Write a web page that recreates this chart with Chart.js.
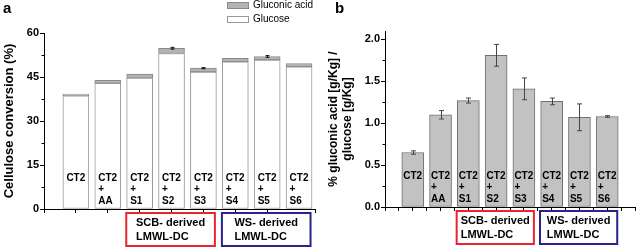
<!DOCTYPE html>
<html>
<head>
<meta charset="utf-8">
<script src="https://cdn.jsdelivr.net/npm/chart.js@4"></script>
<style>
  html, body { margin: 0; padding: 0; background: #fff; }
  .panel { position: absolute; top: 0; height: 248px; }
  #wrapA { left: 0; width: 318px; }
  #wrapB { left: 318px; width: 320px; }
</style>
</head>
<body>
<div class="panel" id="wrapA"><canvas id="chartA" width="318" height="248"></canvas></div>
<div class="panel" id="wrapB"><canvas id="chartB" width="320" height="248"></canvas></div>
<script>
/* global Chart */

// data
const categories = ['CT2', 'CT2 + AA', 'CT2 + S1', 'CT2 + S2', 'CT2 + S3', 'CT2 + S4', 'CT2 + S5', 'CT2 + S6'];
const glucoseVals = [38.6, 42.8, 44.6, 53.0, 46.7, 50.2, 50.8, 48.5];
const gluconicVals = [0.6, 1.1, 1.4, 1.8, 1.3, 1.2, 1.2, 1.1];
const gluconicErr = [0, 0, 0, 0.3, 0.2, 0, 0.3, 0];
const ratioVals = [0.65, 1.10, 1.27, 1.81, 1.41, 1.26, 1.07, 1.08];
const ratioErr = [0.02, 0.05, 0.03, 0.13, 0.13, 0.04, 0.16, 0.01];
const yTicksA = [0, 15, 30, 45, 60];
const yTicksB = [0, 0.5, 1.0, 1.5, 2.0];
const groupNames = [['SCB- derived', 'LMWL-DC'], ['WS- derived', 'LMWL-DC']];
const groupSpans = [[3, 5], [6, 8]];
const groupColors = ['#e8242c', '#28248c'];

const FONT = 'Liberation Sans, Arial, sans-serif';
Chart.defaults.font.family = FONT;
Chart.defaults.color = '#000';
Chart.defaults.animation = false;
Chart.defaults.responsive = false;

function pts(vals) {
  return vals.map(function(v, i) { return { x: i + 1, y: v }; });
}

// minor ticks, error bars, bar captions, group boxes
const extras = {
  id: 'extras',
  afterDraw: function(chart, args, o) {
    const ctx = chart.ctx;
    const x = chart.scales.x;
    const y = chart.scales.y;
    const area = chart.chartArea;
    ctx.save();

    // minor y ticks
    ctx.strokeStyle = '#000';
    ctx.lineWidth = 1;
    for (let v = y.min; v <= y.max + 1e-9; v += o.minor) {
      const py = Math.round(y.getPixelForValue(v)) + 0.5;
      ctx.beginPath();
      ctx.moveTo(area.left, py);
      ctx.lineTo(area.left - 2.5, py);
      ctx.stroke();
    }

    // error bars
    ctx.strokeStyle = o.errColor;
    for (let i = 0; i < o.tops.length; i++) {
      if (!o.err[i]) continue;
      const px = Math.round(x.getPixelForValue(i + 1)) + 0.5;
      const hi = y.getPixelForValue(o.tops[i] + o.err[i]);
      const lo = y.getPixelForValue(o.tops[i] - o.err[i]);
      ctx.beginPath();
      ctx.moveTo(px, hi); ctx.lineTo(px, lo);
      ctx.moveTo(px - o.cap, hi); ctx.lineTo(px + o.cap, hi);
      ctx.moveTo(px - o.cap, lo); ctx.lineTo(px + o.cap, lo);
      ctx.stroke();
    }

    // captions inside bars
    ctx.fillStyle = '#000';
    ctx.font = 'bold 10px ' + FONT;
    ctx.textBaseline = 'middle';
    ctx.textAlign = 'left';
    const rows = [-31, -20, -8];
    categories.forEach(function(c, i) {
      const left = x.getPixelForValue(i + 1) - o.thick / 2 + o.inset;
      c.split(' ').forEach(function(t, j) {
        ctx.fillText(t, left, area.bottom + rows[j]);
      });
    });

    // group boxes under the axis
    ctx.font = 'bold 11px ' + FONT;
    groupNames.forEach(function(lines, g) {
      const l = x.getPixelForValue(groupSpans[g][0] - 0.42);
      const r = x.getPixelForValue(groupSpans[g][1] + 0.36);
      ctx.strokeStyle = groupColors[g];
      ctx.lineWidth = 2;
      ctx.strokeRect(l, o.boxTop, r - l, o.boxH);
      const w = Math.max.apply(null, lines.map(function(t) { return ctx.measureText(t).width; }));
      const tx = (l + r) / 2 - w / 2;
      lines.forEach(function(t, j) {
        ctx.fillText(t, tx, o.boxTop + 10 + j * 14);
      });
    });

    // panel letter
    ctx.font = 'bold 15px ' + FONT;
    ctx.fillText(o.letter, o.letterX, 9);

    // legend (panel a only)
    if (o.legend) {
      ctx.font = '10px ' + FONT;
      ctx.lineWidth = 1;
      chart.data.datasets.slice().reverse().forEach(function(ds, k) {
        const by = 2.5 + k * 14;
        ctx.fillStyle = ds.backgroundColor;
        ctx.fillRect(227.5, by, 21, 6);
        ctx.strokeStyle = ds.borderColor;
        ctx.strokeRect(227.5, by, 21, 6);
        ctx.fillStyle = '#000';
        ctx.fillText(ds.label, 253, by + 3);
      });
    }
    ctx.restore();
  }
};

function axisY(min, max, step, width, title, fontSize, ticks, titlePad) {
  return {
    min: min, max: max,
    afterFit: function(s) { s.width = width; },
    afterBuildTicks: function(s) { s.ticks = ticks.map(function(v) { return { value: v }; }); },
    border: { color: '#000', width: 1 },
    grid: { drawOnChartArea: false, tickLength: 4, tickColor: '#000' },
    ticks: { stepSize: step, padding: 1, font: { size: 11, weight: 'bold' }, color: '#000',
      callback: function(v) { return step < 1 ? v.toFixed(1) : v; } },
    title: { display: true, text: title, color: '#000', padding: { top: titlePad, bottom: 0 },
      font: { size: fontSize, weight: 'bold' } }
  };
}

function axisX(max, step, height) {
  return {
    type: 'linear', min: 0, max: max, offset: false,
    afterFit: function(s) { s.height = height; },
    border: { color: '#000', width: 1 },
    grid: { drawOnChartArea: false, offset: false, tickLength: 4, tickColor: '#000' },
    ticks: { stepSize: step, autoSkip: false, callback: function() { return ''; } }
  };
}

const chartA = new Chart(document.getElementById('chartA'), {
  type: 'bar',
  data: {
    datasets: [{
      label: 'Glucose',
      data: pts(glucoseVals),
      backgroundColor: '#ffffff',
      borderColor: '#999999',
      borderWidth: 1,
      borderSkipped: false,
      barThickness: 26,
      stack: 's'
    }, {
      label: 'Gluconic acid',
      data: pts(gluconicVals),
      backgroundColor: '#b3b3b3',
      borderColor: '#8a8a8a',
      borderWidth: 1,
      borderSkipped: false,
      barThickness: 26,
      stack: 's'
    }]
  },
  options: {
    layout: { padding: { top: 33, right: 2, left: 0, bottom: 0 } },
    plugins: {
      legend: { display: false },
      tooltip: { enabled: false },
      extras: {
        minor: 7.5, errColor: '#111', cap: 2,
        tops: glucoseVals.map(function(v, i) { return v + gluconicVals[i]; }),
        err: gluconicErr, thick: 26, inset: 3.5,
        boxTop: 213, boxH: 33, letter: 'a', letterX: 3, legend: true
      }
    },
    scales: {
      x: axisX(8.5, 1, 39),
      y: Object.assign(axisY(0, 60, 15, 44, 'Cellulose conversion (%)', 13, yTicksA, 2), { stacked: true })
    }
  },
  plugins: [extras]
});

const chartB = new Chart(document.getElementById('chartB'), {
  type: 'bar',
  data: {
    datasets: [{
      label: 'ratio',
      data: pts(ratioVals),
      backgroundColor: '#c2c2c2',
      borderColor: '#707070',
      borderWidth: 1,
      borderSkipped: false,
      barThickness: 22
    }]
  },
  options: {
    layout: { padding: { top: 31, right: 1, left: 0, bottom: 0 } },
    plugins: {
      legend: { display: false },
      tooltip: { enabled: false },
      extras: {
        minor: 0.25, errColor: '#444', cap: 2.5,
        tops: ratioVals, err: ratioErr, thick: 22, inset: 1.5,
        boxTop: 211, boxH: 33, letter: 'b', letterX: 17, legend: false
      }
    },
    scales: {
      x: axisX(9, 0.5, 41),
      y: axisY(0, 2.1, 0.5, 67, ['% gluconic acid [g/Kg] /', 'glucose [g/Kg]'], 12, yTicksB, 8)
    }
  },
  plugins: [extras]
});
</script>
</body>
</html>
